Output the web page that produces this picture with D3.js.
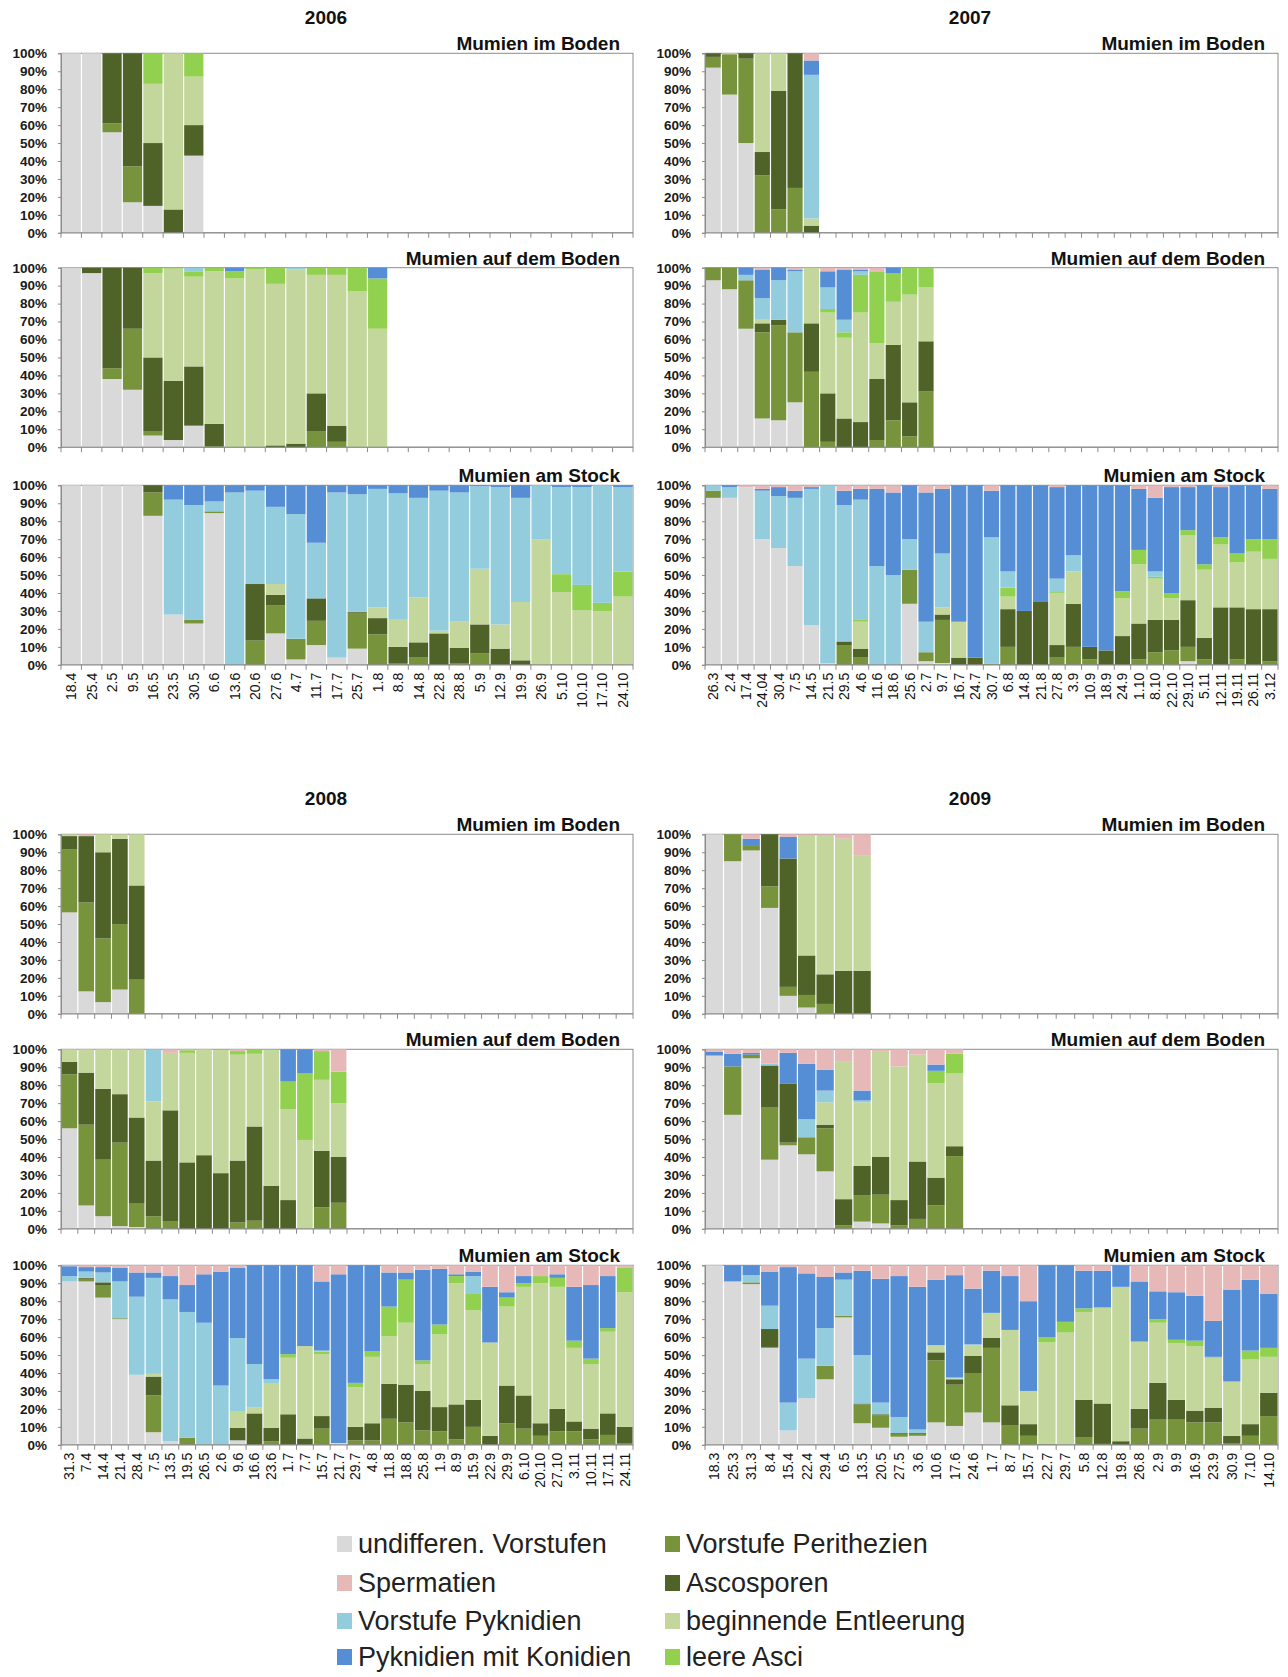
<!DOCTYPE html>
<html><head><meta charset="utf-8">
<script src="https://cdn.jsdelivr.net/npm/d3@7"></script>
<style>
body{margin:0;background:#fff;}
svg{display:block;font-family:"Liberation Sans",Arial,sans-serif;}
</style></head>
<body><svg id="c" width="1288" height="1677"></svg>
<script>
// Series (stack order bottom -> top)
const seriesNames = ['undifferen. Vorstufen','Vorstufe Perithezien','Ascosporen','beginnende Entleerung','leere Asci','Vorstufe Pyknidien','Pyknidien mit Konidien','Spermatien'];
const seriesColors = ['#d9d9d9','#77933c','#4f6228','#c3d69b','#92d050','#93cddd','#558ed5','#e6b9b8'];
const panelTitles = ['Mumien im Boden','Mumien auf dem Boden','Mumien am Stock'];
const years = ['2006','2007','2008','2009'];

// Category (date) labels
const cats2006 = ['18.4','25.4','2.5','9.5','16.5','23.5','30.5','6.6','13.6','20.6','27.6','4.7','11.7','17.7','25.7','1.8','8.8','14.8','22.8','28.8','5.9','12.9','19.9','26.9','5.10','10.10','17.10','24.10'];
const cats2007 = ['26.3','2.4','17.4','24.04','30.4','7.5','14.5','21.5','29.5','4.6','11.6','18.6','25.6','2.7','9.7','16.7','24.7','30.7','6.8','14.8','21.8','27.8','3.9','10.9','18.9','24.9','1.10','8.10','22.10','29.10','5.11','12.11','19.11','26.11','3.12'];
const cats2008 = ['31.3','7.4','14.4','21.4','28.4','7.5','13.5','19.5','26.5','2.6','9.6','16.6','23.6','1.7','7.7','15.7','21.7','29.7','4.8','11.8','18.8','25.8','1.9','8.9','15.9','22.9','29.9','6.10','20.10','27.10','3.11','10.11','17.11','24.11'];
const cats2009 = ['18.3','25.3','31.3','8.4','15.4','22.4','29.4','6.5','13.5','20.5','27.5','3.6','10.6','17.6','24.6','1.7','8.7','15.7','22.7','29.7','5.8','12.8','19.8','26.8','2.9','9.9','16.9','23.9','30.9','7.10','14.10'];

// Values per bar: [undiff, V.Perithezien, Ascosporen, beg.Entleerung, leere Asci, V.Pyknidien, Pyknidien, Spermatien] (%)
const boden2006 = [[100,0,0,0,0,0,0,0],[100,0,0,0,0,0,0,0],[56,5,39,0,0,0,0,0],[17,20,63,0,0,0,0,0],[15,0,35,33,17,0,0,0],[0,0,13,87,0,0,0,0],[43,0,17,27,13,0,0,0]];
const auf2006 = [[100,0,0,0,0,0,0,0],[97,0,3,0,0,0,0,0],[38,6,56,0,0,0,0,0],[32,34,34,0,0,0,0,0],[6.5,2.5,41,47,3,0,0,0],[4,0,33,62.5,0.5,0,0,0],[12,0,33,50,3,2,0,0],[0,0.5,12.5,85,2,0,0,0],[0,0,0,94,4,0,2,0],[0,0,0,99,1,0,0,0],[0,0,1,90,9,0,0,0],[0,0,2,97,0,1,0,0],[0,9,21,66,4,0,0,0],[0,3,9,84,4,0,0,0],[0,0,0,87,13,0,0,0],[0,0,0,66,28,0,6,0]];
const stock2006 = [[100,0,0,0,0,0,0,0],[100,0,0,0,0,0,0,0],[100,0,0,0,0,0,0,0],[100,0,0,0,0,0,0,0],[83,13,4,0,0,0,0,0],[28,0,0,0,0,64,8,0],[23,2,0,0,0,64,11,0],[84.5,1,0,0,0,5.5,9,0],[0,0,0,0,0,96,4,0],[0,13.5,31.5,0,0,52,3,0],[17.5,15.5,6,6,0,43,12,0],[3,11.5,0,0,0,69.5,16,0],[11,13.5,12.5,0,0,31,32,0],[4,0,0,0,0,92,4,0],[9,20,0.5,0,0,65.5,5,0],[0,17,9,6,0,66,2,0],[0,1,9,15.5,0,70,4.5,0],[0,4,8.5,25,0,55.5,7,0],[0,0,17.5,1.5,0,78,3,0],[0,1,8.5,14.5,0,72,4,0],[0,6.5,16,31,0,46,0.5,0],[0,0,9,13.5,0,76.5,1,0],[0,0,2.5,32.5,0,58,7,0],[0,0,0,70,0,30,0,0],[0,0,0,40.5,10,48.5,1,0],[0,0,0,30.5,14,54.5,1,0],[0,0,0,30,4.5,65.5,0,0],[0,0,0,38,14,47,1,0]];

const boden2007 = [[92,6,2,0,0,0,0,0],[77,22.5,0,0.5,0,0,0,0],[50,47,3,0,0,0,0,0],[0,32,13,55,0,0,0,0],[0,13,66,21,0,0,0,0],[0,25,75,0,0,0,0,0],[0,0,4,4,0,80,8,4]];
const auf2007 = [[93,7,0,0,0,0,0,0],[88,12,0,0,0,0,0,0],[66,27,0,0,0,3,4,0],[16,48,5,2,0,12,16,1],[15,53,3,0,0,22,7,0],[25,39,0,0,0,34,1,1],[0,42,27,31,0,0,0,0],[0,3,27,45,2,12,9,2],[0,0,16,45,3,7,28,1],[0,0,14,61,21,2,1,1],[0,4,34,20,40,0,0,2],[0,15,42,24,16,0,3,0],[0,6,19,60,15,0,0,0],[0,31,28,30,11,0,0,0]];
const stock2007 = [[93,4,0,0,0,3,0,0],[93,0,0,0,0,6,1,0],[99,0,0,0,0,0,0,1],[70,0,0,0,0,27,1,2],[65,0,0,0,0,29,5,1],[55,0,0,0,0,38,4,3],[22,0,0,0,0,76,1,1],[1,0,0,0,0,99,0,0],[0,11,2,0,0,76,8,3],[0,4,5,15,1,67,6,2],[0,0,0,0,0,55,43,2],[0,0,0,0,0,50,46,4],[34,19,0,0,0,17,30,0],[2,5,0,0,0,17,72,4],[1,24,3,4,0,30,36,2],[0,0,4,20,0,0,76,0],[0,0,4,0,0,0,96,0],[0,0.5,0,0,0,70.5,26,3],[0,10,21,7,5,9,48,0],[0,0,30,0,0,0,70,0],[0,0,35,0,0,0,65,0],[0,4,7,29,0.5,7.5,51,1],[0,10,24,18,0,9,39,0],[0,3,7,0,0,0,90,0],[0,0,8,0,0,0,92,0],[0,0,16,21,4,0,59,0],[0,3,20,33,8,0,34,2],[0,7,18,23,1,3,41,7],[0,8,17,12,3,0,59,1],[2,8,26,36,3,0,24,1],[0,3,12,38,3,0,44,0],[0,0,32,35,4,0,28,1],[0,3,29,25,5,0,38,0],[0,0,31,32,7,0,30,0],[0,2,29,28,11,0,28,2]];

const boden2008 = [[56.5,35,7.5,1,0,0,0,0],[12.5,49.5,37,0,0,0,0,1],[6.5,35.5,48,10,0,0,0,0],[13.5,36.5,47.5,2.5,0,0,0,0],[0,19,52.5,28.5,0,0,0,0]];
const auf2008 = [[56,30,7,7,0,0,0,0],[13,45,29,13,0,0,0,0],[7,31.5,39.5,22,0,0,0,0],[1.5,46.5,27,25,0,0,0,0],[1,13,48,38,0,0,0,0],[0,7,31,33,0,29,0,0],[0,4,62,32,0,0,0,2],[0,0,37,61,1.5,0,0,0.5],[0,0,41,59,0,0,0,0],[0,0,31,68.5,0.5,0,0,0],[0,3.5,34.5,59,2,0,0,1],[0,4.5,52.5,40.5,2.5,0,0,0],[0,0,24,75.5,0.5,0,0,0],[0,0,16,50.5,15.5,0,18,0],[0,0,0,49.5,37,0,13.5,0],[0,12,31.5,39.5,16,0,0,1],[0,14.5,25.5,30,17.5,0,0,12.5]];
const stock2008 = [[91,0,0,0,0,3,5.5,0.5],[91,1.5,0.5,0,0,3.5,2.5,1],[82,7,1.5,0,0,5.5,3,1],[70,0.5,0,0,0,20.5,7.5,1.5],[39,0,0,0,0,43.5,13.5,4],[7,20.5,10.5,1.5,0,53.5,3,4],[2,0,0,0,0,79,13,6],[0,4,0,0,0,70,15,11],[0,0,0,0,0,68,27,5],[0,0,0,0,0,33,63.5,3.5],[2.5,0,7,8.5,0.5,41,39,1.5],[0,0,17.5,3.5,0,24,55,0],[0,2,7.5,24.5,0,2.5,63.5,0],[0,0,17,31.5,2,0,49.5,0],[0,0,3.5,51.5,0,0,45,0],[0,9,7,34.5,1.5,0.5,38.5,9],[1,0,0,0,0,0,94,5],[0,2.5,7.5,22,2.5,0,65.5,0],[0,2.5,9.5,37,3,0,48,0],[0,14.5,19.5,26.5,16.5,0,19,4],[0,12.5,21,34.5,24,0,4,4],[0,8,22,15,2,0,50.5,2.5],[0,7.5,13.5,40.5,5.5,0,31,2],[0,3,19.5,67.5,4,0,1,5],[0,10,15,50,9,10,2.5,3.5],[0,0,5,52,0,0,31,12],[0,12,21,44,5,0,3,15],[0,9,18.5,60.5,2,0,4,6],[0,5,7,78,4,0,0,6],[0,7.5,12.5,68,5,0,2,5],[0,7.5,5.5,41,4,0,30,12],[0,3,6,36,3,0,41,11],[0,5.5,12,45.5,2,0,29,6],[0,1,9,75,13.5,0,0,1.5]];

const boden2009 = [[100,0,0,0,0,0,0,0],[85,15,0,0,0,0,0,0],[91,2.5,0,0,0,0,4,2.5],[59,12,29,0,0,0,0,0],[10,5,71.5,0,0,0,12,1.5],[3.5,7,22,66.5,0,0,0,1],[0,5.5,16.5,77,0,0,0,1],[0,0,24,73.5,0,0,0,2.5],[0,0,24,64,0,0,0,12]];
const auf2009 = [[96.5,0,0,0,0,0,2,1.5],[63.5,27,0,0,0,0,7,2.5],[95,2,0,0,0,0,1,2],[38.5,29,23.5,0,0,1,0,8],[46.5,1.5,33,0,0,0,17,2],[41.5,9.5,0,0,0,10,31,8],[32,24,2,12.5,0,6.5,11.5,11.5],[0,2,14.5,76.5,0,0,0,7],[4,14.5,16.5,35.5,0,1,5.5,23],[3,16,21,59,0,0,0,1],[0,2,14,74.5,0,0,0,9.5],[0,5.5,32,59.5,0,0,0,3],[0,13,15.5,52.5,7,0,3.5,8.5],[0,40.5,5.5,40.5,11,0,0,2.5]];
const stock2009 = [[100,0,0,0,0,0,0,0],[91,0,0,0,0,0,9,0],[89.5,1,0,0,0,4,5.5,0],[54,0.5,10,0,0,13,19,3.5],[8,0,0,0,0,15.5,75.5,1],[26,0,0,0,0,22,47.5,4.5],[36.5,7.5,0,0,0,21,28.5,6.5],[71,1,0,0,0,20,4,4],[12,10.5,0.5,0,0,27,47,3],[9.5,7,0.5,0,0,6.5,69,7.5],[4.5,1.5,0.5,0,0,9,78.5,6],[5,1,0.5,0,0,2,79.5,12],[12.5,34.5,4.5,4,0,0,36.5,8],[10.5,23,3,0.5,0,0.5,57,5.5],[18,22,9.5,6,0,0.5,31,13],[12.5,41.5,5.5,14,0,0,23.5,3],[0,11,11,42,0,0,30,6],[0,5,6.5,18.5,0,0,50,20],[0,0.5,0,56.5,3,0,40,0],[0,0,0,62.5,6,0,31.5,0],[0,4,21,49,2,0,21,3],[0,0.5,22.5,53.5,0,0,20.5,3],[0,0,2,86,0,0,12,0],[0,9,11,37.5,0,0,33.5,9],[0,14,20.5,33.5,2,0,15.5,14.5],[0,14,11,31.5,2,0,26.5,15],[0,12.5,6.5,36,3,0,25,17],[0,12.5,8,28,0.5,0,20,31],[0,1,4,30,0.5,0,51,13.5],[0,5,6.5,36,5,0,39.5,8],[0,16,13,20,5,0,30,16]];

// ---------- layout ----------
const svg = d3.select('#c');
const colX = [[61,633],[705,1278]];
const rowTops = [[53.3,267.7,485.3],[834.3,1049.3,1265.3]];
const plotH = 179.5;
const yearPos = [[326,24],[970,24],[326,805],[970,805]];

const panels = [
  {cats:cats2006, rows:[boden2006,auf2006,stock2006], col:0, blk:0},
  {cats:cats2007, rows:[boden2007,auf2007,stock2007], col:1, blk:0},
  {cats:cats2008, rows:[boden2008,auf2008,stock2008], col:0, blk:1},
  {cats:cats2009, rows:[boden2009,auf2009,stock2009], col:1, blk:1}
];

const keys = d3.range(seriesNames.length);
const stack = d3.stack().keys(keys).value((d,k)=>d[k]).offset(d3.stackOffsetExpand);

panels.forEach((p,pi)=>{
  const [x0,x1] = colX[p.col];
  svg.append('text').attr('x',yearPos[pi][0]).attr('y',yearPos[pi][1])
    .attr('text-anchor','middle').attr('font-size',19).attr('font-weight','bold').attr('fill','#111').text(years[pi]);
  const x = d3.scaleBand().domain(p.cats).range([x0,x1]).padding(0);
  p.rows.forEach((rowData,ri)=>{
    const top = rowTops[p.blk][ri];
    const bottom = top + plotH;
    const y = d3.scaleLinear().domain([0,1]).range([bottom,top]);
    const g = svg.append('g');
    g.append('rect').attr('x',x0).attr('y',top).attr('width',x1-x0).attr('height',plotH)
      .attr('fill','none').attr('stroke','#8c8c8c').attr('stroke-width',1);
    const rowsObj = rowData.map((v,i)=>Object.assign(v.slice(),{cat:p.cats[i]}));
    const st = stack(rowsObj);
    st.forEach((layer,k)=>{
      g.append('g').attr('fill',seriesColors[k]).selectAll('rect').data(layer).join('rect')
        .attr('x',d=>x(d.data.cat)+0.6)
        .attr('width',x.bandwidth()-1.2)
        .attr('y',d=>y(d[1]))
        .attr('height',d=>Math.max(0,y(d[0])-y(d[1])));
    });
    const ya = g.append('g').attr('transform',`translate(${x0},0)`)
      .call(d3.axisLeft(y).tickValues(d3.range(0,11).map(i=>i/10)).tickFormat(d3.format('.0%')).tickSize(3).tickPadding(11));
    ya.select('.domain').attr('stroke','#8c8c8c');
    ya.selectAll('.tick line').attr('stroke','#8c8c8c');
    ya.selectAll('text').attr('font-size',13.5).attr('font-weight','bold').attr('fill','#1a1a1a').attr('font-family','"Liberation Sans",Arial,sans-serif');
    const bounds = p.cats.map(c=>x(c)).concat([x1]);
    g.append('g').selectAll('line').data(bounds).join('line')
      .attr('x1',d=>d).attr('x2',d=>d).attr('y1',bottom).attr('y2',bottom+5)
      .attr('stroke','#8c8c8c');
    g.append('line').attr('x1',x0).attr('x2',x1).attr('y1',bottom).attr('y2',bottom).attr('stroke','#8c8c8c');
    if(ri===2){
      g.append('g').selectAll('text').data(p.cats).join('text')
        .attr('transform',c=>`translate(${x(c)+x.bandwidth()/2},${bottom+8}) rotate(-90)`)
        .attr('text-anchor','end').attr('dominant-baseline','central')
        .attr('font-size',14).attr('fill','#111').text(c=>c);
    }
    svg.append('text').attr('x',x1-13).attr('y',top-3).attr('text-anchor','end')
      .attr('font-size',19).attr('font-weight','bold').attr('fill','#111').text(panelTitles[ri]);
  });
});

// legend
const legCols = [[337,358],[665,686]];
const legRows = [1544,1583,1621,1657];
const legOrder = [[0,7,5,6],[1,2,3,4]];
legOrder.forEach((col,ci)=>{
  col.forEach((k,ri)=>{
    svg.append('rect').attr('x',legCols[ci][0]).attr('y',legRows[ri]-8).attr('width',15).attr('height',16).attr('fill',seriesColors[k]);
    svg.append('text').attr('x',legCols[ci][1]).attr('y',legRows[ri]).attr('dominant-baseline','central')
      .attr('font-size',27).attr('fill','#222').text(seriesNames[k]);
  });
});
</script></body></html>
